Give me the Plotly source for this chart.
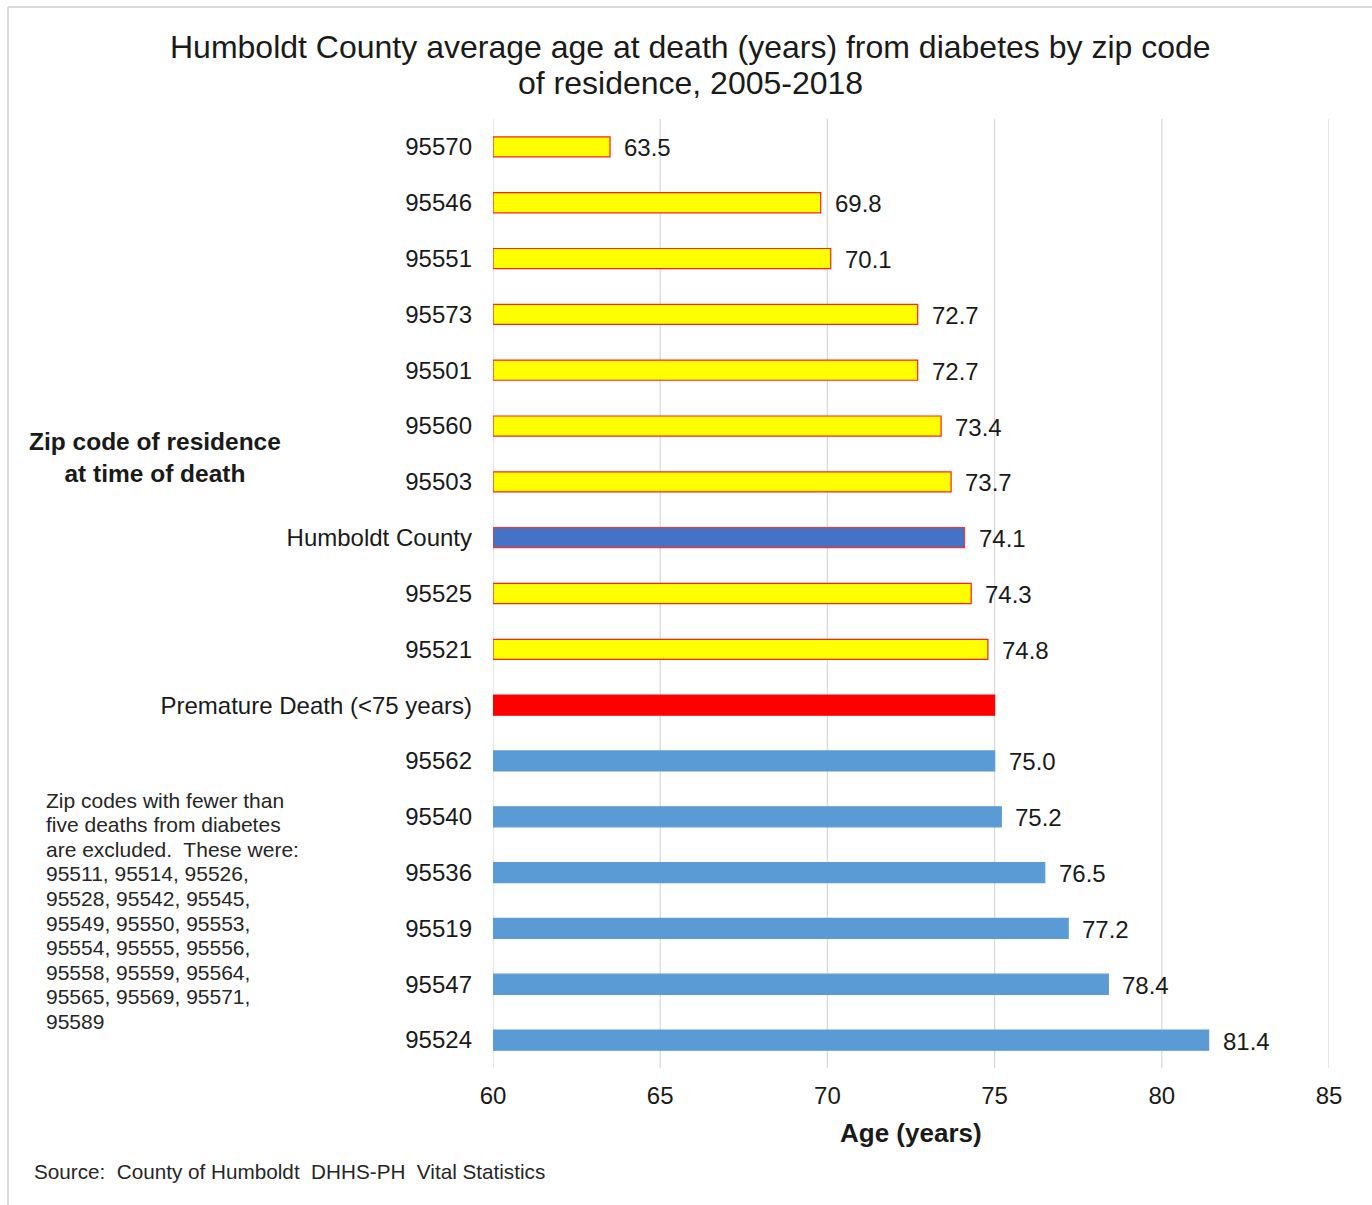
import plotly.graph_objects as go

# ---- data (top to bottom as shown) ----
categories = ["95570", "95546", "95551", "95573", "95501", "95560", "95503",
              "Humboldt County", "95525", "95521", "Premature Death (<75 years)",
              "95562", "95540", "95536", "95519", "95547", "95524"]
ages = [63.5, 69.8, 70.1, 72.7, 72.7, 73.4, 73.7,
        74.1, 74.3, 74.8, 75.0,
        75.0, 75.2, 76.5, 77.2, 78.4, 81.4]
x_ticks = [60, 65, 70, 75, 80, 85]
title_lines = ["Humboldt County average age at death (years) from diabetes by zip code",
               "of residence, 2005-2018"]
excluded_note = ["Zip codes with fewer than", "five deaths from diabetes",
                 "are excluded.  These were:", "95511, 95514, 95526,",
                 "95528, 95542, 95545,", "95549, 95550, 95553,",
                 "95554, 95555, 95556,", "95558, 95559, 95564,",
                 "95565, 95569, 95571,", "95589"]
source_text = "Source:  County of Humboldt  DHHS-PH  Vital Statistics"

FONT = "Liberation Sans, Arial, sans-serif"
TXT = "#1a1a1a"

fills, lines = [], []
for c, v in zip(categories, ages):
    if c == "Humboldt County":
        fills.append("#4472C4"); lines.append("#FF3030")
    elif c.startswith("Premature"):
        fills.append("#FF0000"); lines.append("#FF0000")
    elif v < 75:
        fills.append("#FFFF00"); lines.append("#FF2020")
    else:
        fills.append("#5B9BD5"); lines.append("#5B9BD5")

n = len(categories)
fig = go.Figure()
fig.add_trace(go.Bar(
    y=list(range(n)), x=[a - 60 for a in ages], base=60, orientation="h",
    marker=dict(color=fills, line=dict(color=lines, width=1.2)),
    width=0.36, hoverinfo="skip", showlegend=False,
))

annotations = []
for i, (c, v) in enumerate(zip(categories, ages)):
    if c.startswith("Premature"):
        continue
    annotations.append(dict(x=v, y=i, xref="x", yref="y", text=f"{v:.1f}",
                            showarrow=False, xanchor="left", yanchor="middle",
                            xshift=12, yshift=-1,
                            font=dict(family=FONT, size=24, color=TXT)))

L, R, T, B = 493, 1329, 119, 1068
W, H = 1372, 1205
pw, ph = R - L, B - T


def px(xp):
    return (xp - L) / pw


def py(yp):
    return (B - yp) / ph


for k, (line, ypix) in enumerate(zip(title_lines, [47, 83])):
    annotations.append(dict(x=px(690), y=py(ypix), xref="paper", yref="paper",
                            text=line, showarrow=False,
                            xanchor="center", yanchor="middle", align="center",
                            font=dict(family=FONT, size=32, color=TXT)))
annotations.append(dict(x=0.5, y=py(1133), xref="paper", yref="paper",
                        text="<b>Age (years)</b>", showarrow=False,
                        xanchor="center", yanchor="middle",
                        font=dict(family=FONT, size=26, color=TXT)))
annotations.append(dict(x=px(155), y=py(458), xref="paper", yref="paper",
                        text="<b>Zip code of residence<br>at time of death</b>",
                        showarrow=False, xanchor="center", yanchor="middle",
                        align="center",
                        font=dict(family=FONT, size=24.5, color=TXT)))
for k, line in enumerate(excluded_note):
    annotations.append(dict(x=px(44), y=py(800 + 24.6 * k), xref="paper",
                            yref="paper", text=line, showarrow=False,
                            xanchor="left", yanchor="middle", align="left",
                            font=dict(family=FONT, size=21, color="#262626")))
annotations.append(dict(x=px(32), y=py(1171), xref="paper", yref="paper",
                        text=source_text, showarrow=False,
                        xanchor="left", yanchor="middle", align="left",
                        font=dict(family=FONT, size=20.7, color="#262626")))

shapes = [
    dict(type="line", xref="paper", yref="paper", x0=px(8), x1=px(8),
         y0=py(7), y1=py(1210), line=dict(color="#d9d9d9", width=2)),
    dict(type="line", xref="paper", yref="paper", x0=px(8), x1=px(1380),
         y0=py(7), y1=py(7), line=dict(color="#d9d9d9", width=2)),
]
for t in x_ticks:
    shapes.append(dict(type="line", xref="x", yref="paper", x0=t, x1=t,
                       y0=0, y1=1, layer="below",
                       line=dict(color="#d9d9d9", width=1.3)))

fig.update_layout(
    width=W, height=H,
    margin=dict(l=L, r=W - R, t=T, b=H - B),
    paper_bgcolor="white", plot_bgcolor="white",
    font=dict(family=FONT, color=TXT),
    annotations=annotations, shapes=shapes,
    xaxis=dict(range=[60, 85], tickvals=x_ticks, showgrid=False,
               zeroline=False, showline=False, ticks="",
               ticklabelstandoff=11,
               tickfont=dict(family=FONT, size=24, color=TXT)),
    yaxis=dict(type="linear", range=[n - 0.5, -0.5],
               tickmode="array", tickvals=list(range(n)), ticktext=categories,
               showgrid=False, zeroline=False,
               showline=False, ticks="", ticklabelstandoff=20,
               tickfont=dict(family=FONT, size=24, color=TXT)),
)

fig.write_html("out.html")
